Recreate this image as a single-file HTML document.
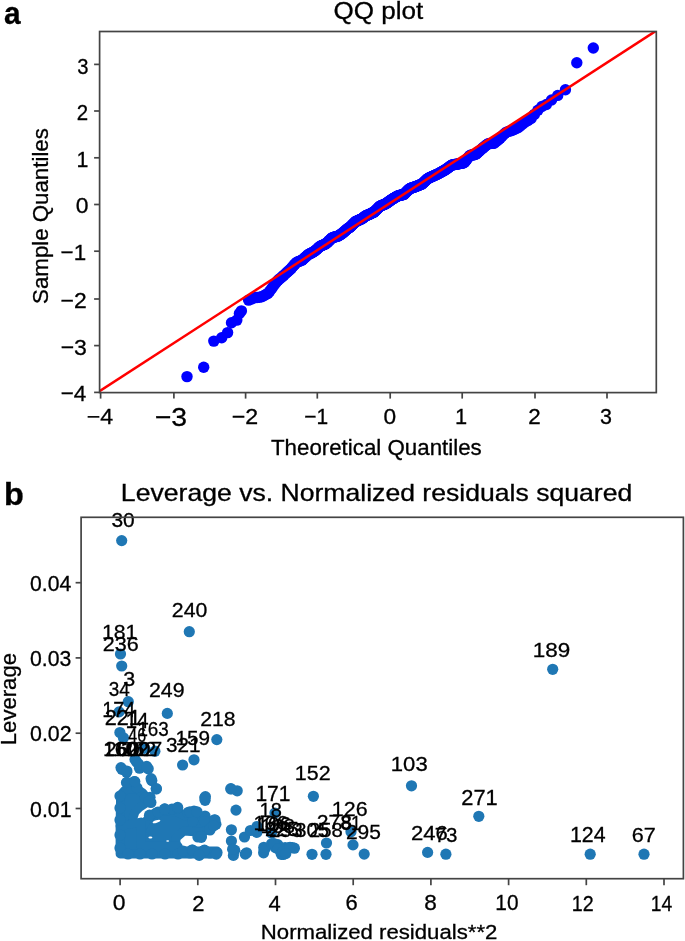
<!DOCTYPE html>
<html><head><meta charset="utf-8"><style>
html,body{margin:0;padding:0;background:#fff;}
svg{display:block;}
text{stroke:#000;stroke-width:0.3px;}
</style></head><body>
<svg width="685" height="941" viewBox="0 0 685 941" style="will-change:transform">
<rect width="685" height="941" fill="#fff"/>
<text x="4.1" y="24.18" font-family='"Liberation Sans", sans-serif' font-size="31.82" font-weight="bold" textLength="16.63" lengthAdjust="spacingAndGlyphs" fill="#000">a</text>
<text x="333.43" y="18.6" font-family='"Liberation Sans", sans-serif' font-size="23" font-weight="normal" textLength="89.72" lengthAdjust="spacingAndGlyphs" fill="#000">QQ plot</text>
<clipPath id="ca"><rect x="99.6" y="31.5" width="556.6999999999999" height="361.1"/></clipPath>
<g fill="#0000ff">
<circle cx="187" cy="376.6" r="5.7"/>
<circle cx="203.7" cy="367.2" r="5.7"/>
<circle cx="213.8" cy="341.1" r="5.7"/>
<circle cx="221.7" cy="337.8" r="5.7"/>
<circle cx="227.6" cy="332.6" r="5.7"/>
<circle cx="231.5" cy="322.7" r="5.7"/>
<circle cx="236.8" cy="320.1" r="5.7"/>
<circle cx="239.4" cy="313.5" r="5.7"/>
<circle cx="241.4" cy="310.9" r="5.7"/>
<circle cx="248.61" cy="300.11" r="5.7"/>
<circle cx="251.6" cy="298.87" r="5.7"/>
<circle cx="254.37" cy="297.82" r="5.7"/>
<circle cx="256.95" cy="297.45" r="5.7"/>
<circle cx="259.38" cy="297.29" r="5.7"/>
<circle cx="261.67" cy="296.7" r="5.7"/>
<circle cx="263.84" cy="295.77" r="5.7"/>
<circle cx="265.9" cy="294.57" r="5.7"/>
<circle cx="267.86" cy="293.38" r="5.7"/>
<circle cx="269.74" cy="291.2" r="5.7"/>
<circle cx="271.55" cy="288.81" r="5.7"/>
<circle cx="273.28" cy="286.3" r="5.7"/>
<circle cx="274.94" cy="283.95" r="5.7"/>
<circle cx="276.55" cy="281.98" r="5.7"/>
<circle cx="278.11" cy="280.11" r="5.7"/>
<circle cx="279.61" cy="278.89" r="5.7"/>
<circle cx="281.07" cy="277.71" r="5.7"/>
<circle cx="282.49" cy="276.48" r="5.7"/>
<circle cx="283.86" cy="275.25" r="5.7"/>
<circle cx="285.2" cy="274.01" r="5.7"/>
<circle cx="286.51" cy="272.8" r="5.7"/>
<circle cx="287.78" cy="271.62" r="5.7"/>
<circle cx="289.02" cy="270.47" r="5.7"/>
<circle cx="290.23" cy="269.51" r="5.7"/>
<circle cx="291.42" cy="268.14" r="5.7"/>
<circle cx="292.57" cy="266.8" r="5.7"/>
<circle cx="293.71" cy="265.48" r="5.7"/>
<circle cx="294.82" cy="264.2" r="5.7"/>
<circle cx="295.91" cy="262.93" r="5.7"/>
<circle cx="296.98" cy="262.32" r="5.7"/>
<circle cx="298.03" cy="261.76" r="5.7"/>
<circle cx="299.06" cy="261.34" r="5.7"/>
<circle cx="300.07" cy="260.94" r="5.7"/>
<circle cx="301.06" cy="260.54" r="5.7"/>
<circle cx="302.04" cy="260.13" r="5.7"/>
<circle cx="303.01" cy="259.26" r="5.7"/>
<circle cx="303.95" cy="258.41" r="5.7"/>
<circle cx="304.89" cy="257.56" r="5.7"/>
<circle cx="305.81" cy="256.73" r="5.7"/>
<circle cx="306.71" cy="255.91" r="5.7"/>
<circle cx="307.6" cy="255.07" r="5.7"/>
<circle cx="308.48" cy="254.44" r="5.7"/>
<circle cx="309.35" cy="253.99" r="5.7"/>
<circle cx="310.21" cy="253.55" r="5.7"/>
<circle cx="311.06" cy="253.11" r="5.7"/>
<circle cx="311.89" cy="252.68" r="5.7"/>
<circle cx="312.72" cy="252.25" r="5.7"/>
<circle cx="313.53" cy="251.83" r="5.7"/>
<circle cx="314.34" cy="251.33" r="5.7"/>
<circle cx="315.14" cy="250.72" r="5.7"/>
<circle cx="315.93" cy="250.08" r="5.7"/>
<circle cx="316.7" cy="249.37" r="5.7"/>
<circle cx="317.48" cy="248.66" r="5.7"/>
<circle cx="318.24" cy="247.96" r="5.7"/>
<circle cx="318.99" cy="247.27" r="5.7"/>
<circle cx="319.74" cy="246.59" r="5.7"/>
<circle cx="320.48" cy="246.13" r="5.7"/>
<circle cx="321.21" cy="245.8" r="5.7"/>
<circle cx="321.94" cy="245.48" r="5.7"/>
<circle cx="322.66" cy="245.15" r="5.7"/>
<circle cx="323.37" cy="244.83" r="5.7"/>
<circle cx="324.08" cy="244.52" r="5.7"/>
<circle cx="324.78" cy="244.22" r="5.7"/>
<circle cx="325.47" cy="243.94" r="5.7"/>
<circle cx="326.16" cy="243.57" r="5.7"/>
<circle cx="326.84" cy="242.91" r="5.7"/>
<circle cx="327.52" cy="242.25" r="5.7"/>
<circle cx="328.19" cy="241.6" r="5.7"/>
<circle cx="328.86" cy="240.95" r="5.7"/>
<circle cx="329.52" cy="240.3" r="5.7"/>
<circle cx="330.17" cy="239.66" r="5.7"/>
<circle cx="330.82" cy="239.03" r="5.7"/>
<circle cx="331.47" cy="238.4" r="5.7"/>
<circle cx="332.11" cy="237.84" r="5.7"/>
<circle cx="332.75" cy="237.57" r="5.7"/>
<circle cx="333.38" cy="237.34" r="5.7"/>
<circle cx="334.01" cy="237.17" r="5.7"/>
<circle cx="334.64" cy="237" r="5.7"/>
<circle cx="335.26" cy="236.83" r="5.7"/>
<circle cx="335.87" cy="236.67" r="5.7"/>
<circle cx="336.49" cy="236.5" r="5.7"/>
<circle cx="337.1" cy="236.34" r="5.7"/>
<circle cx="337.7" cy="236.18" r="5.7"/>
<circle cx="338.3" cy="235.91" r="5.7"/>
<circle cx="338.9" cy="235.53" r="5.7"/>
<circle cx="339.49" cy="235.16" r="5.7"/>
<circle cx="340.09" cy="234.79" r="5.7"/>
<circle cx="340.67" cy="234.42" r="5.7"/>
<circle cx="341.26" cy="234.06" r="5.7"/>
<circle cx="341.84" cy="233.69" r="5.7"/>
<circle cx="342.42" cy="233.22" r="5.7"/>
<circle cx="342.99" cy="232.74" r="5.7"/>
<circle cx="343.57" cy="232.26" r="5.7"/>
<circle cx="344.14" cy="231.78" r="5.7"/>
<circle cx="344.7" cy="231.28" r="5.7"/>
<circle cx="345.27" cy="230.78" r="5.7"/>
<circle cx="345.83" cy="230.29" r="5.7"/>
<circle cx="346.39" cy="229.79" r="5.7"/>
<circle cx="346.94" cy="229.3" r="5.7"/>
<circle cx="347.5" cy="228.81" r="5.7"/>
<circle cx="348.05" cy="228.33" r="5.7"/>
<circle cx="348.6" cy="227.99" r="5.7"/>
<circle cx="349.14" cy="227.68" r="5.7"/>
<circle cx="349.69" cy="227.37" r="5.7"/>
<circle cx="350.23" cy="226.96" r="5.7"/>
<circle cx="350.77" cy="226.41" r="5.7"/>
<circle cx="351.31" cy="225.87" r="5.7"/>
<circle cx="351.84" cy="225.34" r="5.7"/>
<circle cx="352.38" cy="224.8" r="5.7"/>
<circle cx="352.91" cy="224.27" r="5.7"/>
<circle cx="353.44" cy="223.74" r="5.7"/>
<circle cx="353.96" cy="223.21" r="5.7"/>
<circle cx="354.49" cy="222.68" r="5.7"/>
<circle cx="355.01" cy="222.15" r="5.7"/>
<circle cx="355.53" cy="221.63" r="5.7"/>
<circle cx="356.05" cy="221.15" r="5.7"/>
<circle cx="356.57" cy="221.12" r="5.7"/>
<circle cx="357.09" cy="221.01" r="5.7"/>
<circle cx="357.6" cy="220.76" r="5.7"/>
<circle cx="358.12" cy="220.52" r="5.7"/>
<circle cx="358.63" cy="220.28" r="5.7"/>
<circle cx="359.14" cy="220.04" r="5.7"/>
<circle cx="359.65" cy="219.8" r="5.7"/>
<circle cx="360.16" cy="219.57" r="5.7"/>
<circle cx="360.66" cy="219.33" r="5.7"/>
<circle cx="361.17" cy="219.09" r="5.7"/>
<circle cx="361.67" cy="218.86" r="5.7"/>
<circle cx="362.17" cy="218.57" r="5.7"/>
<circle cx="362.67" cy="218.17" r="5.7"/>
<circle cx="363.17" cy="217.78" r="5.7"/>
<circle cx="363.67" cy="217.38" r="5.7"/>
<circle cx="364.16" cy="216.99" r="5.7"/>
<circle cx="364.66" cy="216.6" r="5.7"/>
<circle cx="365.15" cy="216.21" r="5.7"/>
<circle cx="365.65" cy="215.81" r="5.7"/>
<circle cx="366.14" cy="215.6" r="5.7"/>
<circle cx="366.63" cy="215.41" r="5.7"/>
<circle cx="367.12" cy="215.22" r="5.7"/>
<circle cx="367.61" cy="215.02" r="5.7"/>
<circle cx="368.09" cy="214.83" r="5.7"/>
<circle cx="368.58" cy="214.6" r="5.7"/>
<circle cx="369.07" cy="214.38" r="5.7"/>
<circle cx="369.55" cy="214.15" r="5.7"/>
<circle cx="370.04" cy="213.93" r="5.7"/>
<circle cx="370.52" cy="213.7" r="5.7"/>
<circle cx="371" cy="213.48" r="5.7"/>
<circle cx="371.48" cy="213.26" r="5.7"/>
<circle cx="371.96" cy="213.03" r="5.7"/>
<circle cx="372.44" cy="212.81" r="5.7"/>
<circle cx="372.92" cy="212.59" r="5.7"/>
<circle cx="373.4" cy="212.37" r="5.7"/>
<circle cx="373.88" cy="212.15" r="5.7"/>
<circle cx="374.35" cy="211.79" r="5.7"/>
<circle cx="374.83" cy="211.32" r="5.7"/>
<circle cx="375.31" cy="210.84" r="5.7"/>
<circle cx="375.78" cy="210.36" r="5.7"/>
<circle cx="376.25" cy="209.89" r="5.7"/>
<circle cx="376.73" cy="209.41" r="5.7"/>
<circle cx="377.2" cy="208.94" r="5.7"/>
<circle cx="377.67" cy="208.46" r="5.7"/>
<circle cx="378.15" cy="207.99" r="5.7"/>
<circle cx="378.62" cy="207.51" r="5.7"/>
<circle cx="379.09" cy="207.04" r="5.7"/>
<circle cx="379.56" cy="206.57" r="5.7"/>
<circle cx="380.03" cy="206.11" r="5.7"/>
<circle cx="380.5" cy="205.92" r="5.7"/>
<circle cx="380.97" cy="205.72" r="5.7"/>
<circle cx="381.44" cy="205.52" r="5.7"/>
<circle cx="381.91" cy="205.33" r="5.7"/>
<circle cx="382.38" cy="205.13" r="5.7"/>
<circle cx="382.84" cy="204.93" r="5.7"/>
<circle cx="383.31" cy="204.74" r="5.7"/>
<circle cx="383.78" cy="204.55" r="5.7"/>
<circle cx="384.25" cy="204.37" r="5.7"/>
<circle cx="384.71" cy="204.18" r="5.7"/>
<circle cx="385.18" cy="204" r="5.7"/>
<circle cx="385.65" cy="203.81" r="5.7"/>
<circle cx="386.11" cy="203.59" r="5.7"/>
<circle cx="386.58" cy="203.25" r="5.7"/>
<circle cx="387.04" cy="202.91" r="5.7"/>
<circle cx="387.51" cy="202.56" r="5.7"/>
<circle cx="387.98" cy="202.22" r="5.7"/>
<circle cx="388.44" cy="201.88" r="5.7"/>
<circle cx="388.91" cy="201.54" r="5.7"/>
<circle cx="389.37" cy="201.2" r="5.7"/>
<circle cx="389.84" cy="200.86" r="5.7"/>
<circle cx="390.31" cy="200.52" r="5.7"/>
<circle cx="390.77" cy="200.17" r="5.7"/>
<circle cx="391.24" cy="199.83" r="5.7"/>
<circle cx="391.7" cy="199.49" r="5.7"/>
<circle cx="392.17" cy="199.18" r="5.7"/>
<circle cx="392.64" cy="198.91" r="5.7"/>
<circle cx="393.1" cy="198.64" r="5.7"/>
<circle cx="393.57" cy="198.37" r="5.7"/>
<circle cx="394.03" cy="198.1" r="5.7"/>
<circle cx="394.5" cy="197.83" r="5.7"/>
<circle cx="394.97" cy="197.56" r="5.7"/>
<circle cx="395.43" cy="197.29" r="5.7"/>
<circle cx="395.9" cy="197.02" r="5.7"/>
<circle cx="396.37" cy="196.74" r="5.7"/>
<circle cx="396.84" cy="196.47" r="5.7"/>
<circle cx="397.3" cy="196.2" r="5.7"/>
<circle cx="397.77" cy="195.93" r="5.7"/>
<circle cx="398.24" cy="195.75" r="5.7"/>
<circle cx="398.71" cy="195.63" r="5.7"/>
<circle cx="399.18" cy="195.52" r="5.7"/>
<circle cx="399.65" cy="195.4" r="5.7"/>
<circle cx="400.12" cy="195.29" r="5.7"/>
<circle cx="400.59" cy="195.18" r="5.7"/>
<circle cx="401.06" cy="195.06" r="5.7"/>
<circle cx="401.53" cy="194.95" r="5.7"/>
<circle cx="402.01" cy="194.83" r="5.7"/>
<circle cx="402.48" cy="194.72" r="5.7"/>
<circle cx="402.95" cy="194.6" r="5.7"/>
<circle cx="403.43" cy="194.49" r="5.7"/>
<circle cx="403.9" cy="194.37" r="5.7"/>
<circle cx="404.37" cy="193.95" r="5.7"/>
<circle cx="404.85" cy="193.45" r="5.7"/>
<circle cx="405.33" cy="192.95" r="5.7"/>
<circle cx="405.8" cy="192.45" r="5.7"/>
<circle cx="406.28" cy="191.95" r="5.7"/>
<circle cx="406.76" cy="191.44" r="5.7"/>
<circle cx="407.24" cy="190.99" r="5.7"/>
<circle cx="407.72" cy="190.56" r="5.7"/>
<circle cx="408.2" cy="190.12" r="5.7"/>
<circle cx="408.68" cy="189.69" r="5.7"/>
<circle cx="409.16" cy="189.25" r="5.7"/>
<circle cx="409.64" cy="188.81" r="5.7"/>
<circle cx="410.13" cy="188.45" r="5.7"/>
<circle cx="410.61" cy="188.29" r="5.7"/>
<circle cx="411.1" cy="188.13" r="5.7"/>
<circle cx="411.59" cy="187.96" r="5.7"/>
<circle cx="412.07" cy="187.8" r="5.7"/>
<circle cx="412.56" cy="187.64" r="5.7"/>
<circle cx="413.05" cy="187.48" r="5.7"/>
<circle cx="413.54" cy="187.31" r="5.7"/>
<circle cx="414.03" cy="187.15" r="5.7"/>
<circle cx="414.53" cy="186.99" r="5.7"/>
<circle cx="415.02" cy="186.82" r="5.7"/>
<circle cx="415.52" cy="186.66" r="5.7"/>
<circle cx="416.01" cy="186.46" r="5.7"/>
<circle cx="416.51" cy="186.25" r="5.7"/>
<circle cx="417.01" cy="186.04" r="5.7"/>
<circle cx="417.51" cy="185.84" r="5.7"/>
<circle cx="418.01" cy="185.63" r="5.7"/>
<circle cx="418.51" cy="185.42" r="5.7"/>
<circle cx="419.02" cy="185.21" r="5.7"/>
<circle cx="419.52" cy="185" r="5.7"/>
<circle cx="420.03" cy="184.79" r="5.7"/>
<circle cx="420.54" cy="184.58" r="5.7"/>
<circle cx="421.05" cy="184.37" r="5.7"/>
<circle cx="421.56" cy="184.16" r="5.7"/>
<circle cx="422.08" cy="183.9" r="5.7"/>
<circle cx="422.59" cy="183.43" r="5.7"/>
<circle cx="423.11" cy="182.94" r="5.7"/>
<circle cx="423.63" cy="182.46" r="5.7"/>
<circle cx="424.15" cy="181.98" r="5.7"/>
<circle cx="424.67" cy="181.5" r="5.7"/>
<circle cx="425.19" cy="181.02" r="5.7"/>
<circle cx="425.72" cy="180.54" r="5.7"/>
<circle cx="426.24" cy="180.06" r="5.7"/>
<circle cx="426.77" cy="179.57" r="5.7"/>
<circle cx="427.3" cy="179.09" r="5.7"/>
<circle cx="427.84" cy="178.6" r="5.7"/>
<circle cx="428.37" cy="178.27" r="5.7"/>
<circle cx="428.91" cy="178.01" r="5.7"/>
<circle cx="429.45" cy="177.74" r="5.7"/>
<circle cx="429.99" cy="177.48" r="5.7"/>
<circle cx="430.54" cy="177.24" r="5.7"/>
<circle cx="431.08" cy="177" r="5.7"/>
<circle cx="431.63" cy="176.77" r="5.7"/>
<circle cx="432.18" cy="176.53" r="5.7"/>
<circle cx="432.74" cy="176.29" r="5.7"/>
<circle cx="433.29" cy="176.05" r="5.7"/>
<circle cx="433.85" cy="175.8" r="5.7"/>
<circle cx="434.41" cy="175.54" r="5.7"/>
<circle cx="434.98" cy="175.26" r="5.7"/>
<circle cx="435.54" cy="174.99" r="5.7"/>
<circle cx="436.11" cy="174.71" r="5.7"/>
<circle cx="436.69" cy="174.43" r="5.7"/>
<circle cx="437.26" cy="174.15" r="5.7"/>
<circle cx="437.84" cy="173.87" r="5.7"/>
<circle cx="438.42" cy="173.58" r="5.7"/>
<circle cx="439.01" cy="173.28" r="5.7"/>
<circle cx="439.59" cy="172.98" r="5.7"/>
<circle cx="440.19" cy="172.67" r="5.7"/>
<circle cx="440.78" cy="172.33" r="5.7"/>
<circle cx="441.38" cy="171.99" r="5.7"/>
<circle cx="441.98" cy="171.65" r="5.7"/>
<circle cx="442.58" cy="171.3" r="5.7"/>
<circle cx="443.19" cy="170.96" r="5.7"/>
<circle cx="443.81" cy="170.61" r="5.7"/>
<circle cx="444.42" cy="170.26" r="5.7"/>
<circle cx="445.04" cy="169.91" r="5.7"/>
<circle cx="445.67" cy="169.55" r="5.7"/>
<circle cx="446.3" cy="169.12" r="5.7"/>
<circle cx="446.93" cy="168.59" r="5.7"/>
<circle cx="447.57" cy="168.13" r="5.7"/>
<circle cx="448.21" cy="167.66" r="5.7"/>
<circle cx="448.86" cy="167.2" r="5.7"/>
<circle cx="449.51" cy="166.73" r="5.7"/>
<circle cx="450.16" cy="166.25" r="5.7"/>
<circle cx="450.82" cy="165.77" r="5.7"/>
<circle cx="451.49" cy="165.29" r="5.7"/>
<circle cx="452.16" cy="164.9" r="5.7"/>
<circle cx="452.84" cy="164.79" r="5.7"/>
<circle cx="453.52" cy="164.68" r="5.7"/>
<circle cx="454.21" cy="164.57" r="5.7"/>
<circle cx="454.9" cy="164.46" r="5.7"/>
<circle cx="455.6" cy="164.34" r="5.7"/>
<circle cx="456.31" cy="164.22" r="5.7"/>
<circle cx="457.02" cy="164.09" r="5.7"/>
<circle cx="457.74" cy="163.96" r="5.7"/>
<circle cx="458.47" cy="163.82" r="5.7"/>
<circle cx="459.2" cy="163.69" r="5.7"/>
<circle cx="459.94" cy="163.55" r="5.7"/>
<circle cx="460.69" cy="163.41" r="5.7"/>
<circle cx="461.44" cy="163.27" r="5.7"/>
<circle cx="462.2" cy="163.13" r="5.7"/>
<circle cx="462.98" cy="162.98" r="5.7"/>
<circle cx="463.75" cy="162.84" r="5.7"/>
<circle cx="464.54" cy="162.18" r="5.7"/>
<circle cx="465.34" cy="161.17" r="5.7"/>
<circle cx="466.15" cy="160.15" r="5.7"/>
<circle cx="466.96" cy="159.11" r="5.7"/>
<circle cx="467.79" cy="158.07" r="5.7"/>
<circle cx="468.62" cy="157.01" r="5.7"/>
<circle cx="469.47" cy="155.94" r="5.7"/>
<circle cx="470.33" cy="155.23" r="5.7"/>
<circle cx="471.2" cy="155.13" r="5.7"/>
<circle cx="472.08" cy="155.03" r="5.7"/>
<circle cx="472.97" cy="154.92" r="5.7"/>
<circle cx="473.87" cy="154.74" r="5.7"/>
<circle cx="474.79" cy="154.51" r="5.7"/>
<circle cx="475.73" cy="154.29" r="5.7"/>
<circle cx="476.67" cy="153.6" r="5.7"/>
<circle cx="477.64" cy="152.71" r="5.7"/>
<circle cx="478.62" cy="151.81" r="5.7"/>
<circle cx="479.61" cy="150.89" r="5.7"/>
<circle cx="480.62" cy="149.96" r="5.7"/>
<circle cx="481.65" cy="149.01" r="5.7"/>
<circle cx="482.7" cy="148.11" r="5.7"/>
<circle cx="483.77" cy="147.21" r="5.7"/>
<circle cx="484.86" cy="146.3" r="5.7"/>
<circle cx="485.97" cy="145.37" r="5.7"/>
<circle cx="487.11" cy="144.42" r="5.7"/>
<circle cx="488.26" cy="143.64" r="5.7"/>
<circle cx="489.45" cy="143.52" r="5.7"/>
<circle cx="490.66" cy="143.45" r="5.7"/>
<circle cx="491.9" cy="143.42" r="5.7"/>
<circle cx="493.17" cy="143.39" r="5.7"/>
<circle cx="494.48" cy="142.95" r="5.7"/>
<circle cx="495.82" cy="141.79" r="5.7"/>
<circle cx="497.19" cy="140.6" r="5.7"/>
<circle cx="498.61" cy="139.38" r="5.7"/>
<circle cx="500.07" cy="138.1" r="5.7"/>
<circle cx="501.57" cy="136.61" r="5.7"/>
<circle cx="503.13" cy="135.06" r="5.7"/>
<circle cx="504.74" cy="133.46" r="5.7"/>
<circle cx="506.4" cy="132.08" r="5.7"/>
<circle cx="508.13" cy="131.58" r="5.7"/>
<circle cx="509.94" cy="131.05" r="5.7"/>
<circle cx="511.82" cy="130.49" r="5.7"/>
<circle cx="513.78" cy="129.62" r="5.7"/>
<circle cx="515.84" cy="128.66" r="5.7"/>
<circle cx="518.01" cy="127.66" r="5.7"/>
<circle cx="520.3" cy="125.97" r="5.7"/>
<circle cx="522.73" cy="124.04" r="5.7"/>
<circle cx="525.31" cy="122.09" r="5.7"/>
<circle cx="528.08" cy="120.48" r="5.7"/>
<circle cx="531.07" cy="118.38" r="5.7"/>
<circle cx="534.32" cy="114.38" r="5.7"/>
<circle cx="537.9" cy="110.18" r="5.7"/>
<circle cx="541.87" cy="106.43" r="5.7"/>
<circle cx="546.36" cy="104.48" r="5.7"/>
<circle cx="551.54" cy="100" r="5.7"/>
<circle cx="557.72" cy="95.41" r="5.7"/>
<circle cx="565.42" cy="89.82" r="5.7"/>
<circle cx="576.8" cy="62.8" r="5.7"/>
<circle cx="593.3" cy="48" r="5.7"/>
</g>
<line x1="97" y1="392.85" x2="660" y2="28.25" stroke="#ff0000" stroke-width="2.5" clip-path="url(#ca)"/>
<rect x="99.6" y="31.5" width="556.6999999999999" height="361.1" fill="none" stroke="#444" stroke-width="1.7"/>
<line x1="94.1" y1="64.4" x2="99.6" y2="64.4" stroke="#444" stroke-width="1.7"/>
<text x="77.29" y="73.57" font-family='"Liberation Sans", sans-serif' font-size="22.54" font-weight="normal" textLength="11.24" lengthAdjust="spacingAndGlyphs" fill="#000">3</text>
<line x1="94.1" y1="111.0" x2="99.6" y2="111.0" stroke="#444" stroke-width="1.7"/>
<text x="76.68" y="120" font-family='"Liberation Sans", sans-serif' font-size="22.43" font-weight="normal" textLength="11.37" lengthAdjust="spacingAndGlyphs" fill="#000">2</text>
<line x1="94.1" y1="157.8" x2="99.6" y2="157.8" stroke="#444" stroke-width="1.7"/>
<text x="76.4" y="167.2" font-family='"Liberation Sans", sans-serif' font-size="22.75" font-weight="normal" textLength="11.89" lengthAdjust="spacingAndGlyphs" fill="#000">1</text>
<line x1="94.1" y1="204.5" x2="99.6" y2="204.5" stroke="#444" stroke-width="1.7"/>
<text x="75.78" y="213.38" font-family='"Liberation Sans", sans-serif' font-size="22.25" font-weight="normal" textLength="12.75" lengthAdjust="spacingAndGlyphs" fill="#000">0</text>
<line x1="94.1" y1="251.2" x2="99.6" y2="251.2" stroke="#444" stroke-width="1.7"/>
<text x="60.58" y="259.7" font-family='"Liberation Sans", sans-serif' font-size="22.61" font-weight="normal" textLength="25.53" lengthAdjust="spacingAndGlyphs" fill="#000">−1</text>
<line x1="94.1" y1="299.0" x2="99.6" y2="299.0" stroke="#444" stroke-width="1.7"/>
<text x="60.56" y="307.7" font-family='"Liberation Sans", sans-serif' font-size="21.71" font-weight="normal" textLength="26.09" lengthAdjust="spacingAndGlyphs" fill="#000">−2</text>
<line x1="94.1" y1="345.6" x2="99.6" y2="345.6" stroke="#444" stroke-width="1.7"/>
<text x="60.65" y="354.87" font-family='"Liberation Sans", sans-serif' font-size="22.82" font-weight="normal" textLength="26.28" lengthAdjust="spacingAndGlyphs" fill="#000">−3</text>
<line x1="94.1" y1="392.4" x2="99.6" y2="392.4" stroke="#444" stroke-width="1.7"/>
<text x="60.68" y="401.4" font-family='"Liberation Sans", sans-serif' font-size="22.75" font-weight="normal" textLength="25.6" lengthAdjust="spacingAndGlyphs" fill="#000">−4</text>
<line x1="100.6" y1="392.6" x2="100.6" y2="398.6" stroke="#444" stroke-width="1.7"/>
<text x="86.74" y="423.9" font-family='"Liberation Sans", sans-serif' font-size="21.59" font-weight="normal" textLength="26.35" lengthAdjust="spacingAndGlyphs" fill="#000">−4</text>
<line x1="173.9" y1="392.6" x2="173.9" y2="398.6" stroke="#444" stroke-width="1.7"/>
<text x="154.78" y="426.24" font-family='"Liberation Sans", sans-serif' font-size="25.92" font-weight="normal" textLength="32.36" lengthAdjust="spacingAndGlyphs" fill="#000">−3</text>
<line x1="245.6" y1="392.6" x2="245.6" y2="398.6" stroke="#444" stroke-width="1.7"/>
<text x="231.74" y="424.1" font-family='"Liberation Sans", sans-serif' font-size="21.86" font-weight="normal" textLength="26.42" lengthAdjust="spacingAndGlyphs" fill="#000">−2</text>
<line x1="317.3" y1="392.6" x2="317.3" y2="398.6" stroke="#444" stroke-width="1.7"/>
<text x="304.15" y="424.1" font-family='"Liberation Sans", sans-serif' font-size="22.17" font-weight="normal" textLength="23.89" lengthAdjust="spacingAndGlyphs" fill="#000">−1</text>
<line x1="390.2" y1="392.6" x2="390.2" y2="398.6" stroke="#444" stroke-width="1.7"/>
<text x="383.49" y="423.88" font-family='"Liberation Sans", sans-serif' font-size="21.55" font-weight="normal" textLength="12.63" lengthAdjust="spacingAndGlyphs" fill="#000">0</text>
<line x1="462.2" y1="392.6" x2="462.2" y2="398.6" stroke="#444" stroke-width="1.7"/>
<text x="454.96" y="424.1" font-family='"Liberation Sans", sans-serif' font-size="22.17" font-weight="normal" textLength="12.15" lengthAdjust="spacingAndGlyphs" fill="#000">1</text>
<line x1="535.0" y1="392.6" x2="535.0" y2="398.6" stroke="#444" stroke-width="1.7"/>
<text x="528.28" y="424.1" font-family='"Liberation Sans", sans-serif' font-size="21.86" font-weight="normal" textLength="12.47" lengthAdjust="spacingAndGlyphs" fill="#000">2</text>
<line x1="607.0" y1="392.6" x2="607.0" y2="398.6" stroke="#444" stroke-width="1.7"/>
<text x="600.04" y="423.88" font-family='"Liberation Sans", sans-serif' font-size="21.55" font-weight="normal" textLength="11.94" lengthAdjust="spacingAndGlyphs" fill="#000">3</text>
<text x="270.95" y="454.6" font-family='"Liberation Sans", sans-serif' font-size="21.2" font-weight="normal" textLength="210.81" lengthAdjust="spacingAndGlyphs" fill="#000">Theoretical Quantiles</text>
<g transform="translate(48.2,302.9) rotate(-90)"><text x="-1" y="0" font-family='"Liberation Sans", sans-serif' font-size="21.8" font-weight="normal" textLength="175.74" lengthAdjust="spacingAndGlyphs" fill="#000">Sample Quantiles</text></g>
<text x="3.99" y="505.09" font-family='"Liberation Sans", sans-serif' font-size="31.43" font-weight="bold" textLength="19.84" lengthAdjust="spacingAndGlyphs" fill="#000">b</text>
<text x="120.87" y="500.6" font-family='"Liberation Sans", sans-serif' font-size="23.2" font-weight="normal" textLength="511.42" lengthAdjust="spacingAndGlyphs" fill="#000">Leverage vs. Normalized residuals squared</text>
<clipPath id="cb"><rect x="81.1" y="517.3" width="602.3" height="361.4000000000001"/></clipPath>
<g fill="#1f77b4">
<polygon points="120.5,795 125,790 130,789 137,789 143,793 147,798 146,803 140,807 135,812 133,818 134,826 120,826" stroke="#1f77b4" stroke-width="8.799999999999999" stroke-linejoin="round"/>
<polygon points="150,816 156,812 165,811 177,812 185,816 194,815 203,817 209,821 209,826 205,831 198,832 184,831 176,838 176,846 150,846 141,832 144,824" stroke="#1f77b4" stroke-width="8.799999999999999" stroke-linejoin="round"/>
<polygon points="120,826 141,822 141,846 178,846 180,851 217,851 217,854 120,854" stroke="#1f77b4" stroke-width="8.799999999999999" stroke-linejoin="round"/>
<circle cx="126.5" cy="782.6" r="5.6"/>
<circle cx="134.3" cy="781.5" r="5.6"/>
<circle cx="136.9" cy="787.6" r="5.6"/>
<circle cx="151.8" cy="780.6" r="5.6"/>
<circle cx="156.2" cy="789" r="5.6"/>
<circle cx="149.5" cy="815.2" r="5.6"/>
<circle cx="164.8" cy="808.9" r="5.6"/>
<circle cx="177.2" cy="808.1" r="5.6"/>
<circle cx="194" cy="811" r="5.6"/>
<circle cx="214.5" cy="819.8" r="5.6"/>
<circle cx="215.9" cy="824.2" r="5.6"/>
<circle cx="210" cy="830" r="5.6"/>
<circle cx="201.3" cy="837.3" r="5.6"/>
<circle cx="150" cy="797.3" r="5.6"/>
<circle cx="150.9" cy="802.5" r="5.6"/>
<circle cx="188" cy="812.5" r="5.6"/>
<circle cx="172" cy="809" r="5.6"/>
<circle cx="158" cy="812" r="5.6"/>
<circle cx="205" cy="816" r="5.6"/>
<circle cx="120" cy="796" r="5.6"/>
<circle cx="120" cy="808" r="5.6"/>
<circle cx="120" cy="820" r="5.6"/>
<circle cx="120" cy="835" r="5.6"/>
<circle cx="120" cy="848" r="5.6"/>
<circle cx="128" cy="854" r="5.6"/>
<circle cx="140" cy="854" r="5.6"/>
<circle cx="152" cy="854" r="5.6"/>
<circle cx="165" cy="854" r="5.6"/>
<circle cx="178" cy="854" r="5.6"/>
<circle cx="190" cy="853" r="5.6"/>
<circle cx="200" cy="853" r="5.6"/>
<circle cx="210" cy="853" r="5.6"/>
<circle cx="217" cy="852.5" r="5.6"/>
<circle cx="183" cy="851" r="5.6"/>
<circle cx="192" cy="850" r="5.6"/>
<circle cx="204" cy="850.5" r="5.6"/>
</g>
<g fill="#fff"><ellipse cx="156.5" cy="821.5" rx="4" ry="1.3" transform="rotate(-18 156.5 821.5)"/><ellipse cx="150.4" cy="837.6" rx="2" ry="1"/><ellipse cx="167.7" cy="841" rx="1.5" ry="0.7"/></g>
<g fill="#1f77b4">
<circle cx="121.7" cy="540.6" r="5.6"/>
<circle cx="189.3" cy="631.7" r="5.6"/>
<circle cx="552.7" cy="669.3" r="5.6"/>
<circle cx="120.5" cy="654" r="5.6"/>
<circle cx="121.7" cy="666" r="5.6"/>
<circle cx="128.3" cy="701.7" r="5.6"/>
<circle cx="119.1" cy="711.9" r="5.6"/>
<circle cx="167.3" cy="713.4" r="5.6"/>
<circle cx="119.9" cy="732.5" r="5.6"/>
<circle cx="123.4" cy="737.8" r="5.6"/>
<circle cx="216.8" cy="739.6" r="5.6"/>
<circle cx="154.9" cy="751.2" r="5.6"/>
<circle cx="144.4" cy="748.3" r="5.6"/>
<circle cx="194" cy="759.8" r="5.6"/>
<circle cx="182.6" cy="765" r="5.6"/>
<circle cx="411.5" cy="785.8" r="5.6"/>
<circle cx="478.8" cy="816.3" r="5.6"/>
<circle cx="427.6" cy="852.4" r="5.6"/>
<circle cx="445.9" cy="854.2" r="5.6"/>
<circle cx="590.2" cy="854.2" r="5.6"/>
<circle cx="644" cy="854.2" r="5.6"/>
<circle cx="313.4" cy="796.3" r="5.6"/>
<circle cx="275" cy="813" r="5.6"/>
<circle cx="351" cy="831.8" r="5.6"/>
<circle cx="353" cy="844.9" r="5.6"/>
<circle cx="364.2" cy="854.1" r="5.6"/>
<circle cx="326.5" cy="843" r="5.6"/>
<circle cx="312" cy="854.3" r="5.6"/>
<circle cx="326" cy="854.3" r="5.6"/>
<circle cx="121.9" cy="769.3" r="5.6"/>
<circle cx="126.6" cy="772.3" r="5.6"/>
<circle cx="127" cy="782.4" r="5.6"/>
<circle cx="134.8" cy="781.6" r="5.6"/>
<circle cx="136.5" cy="761.75" r="5.6"/>
<circle cx="139.5" cy="768.2" r="5.6"/>
<circle cx="148.2" cy="768.8" r="5.6"/>
<circle cx="151.1" cy="778.7" r="5.6"/>
<circle cx="156.4" cy="788.6" r="5.6"/>
<circle cx="135" cy="759.4" r="5.6"/>
<circle cx="138.5" cy="764" r="5.6"/>
<circle cx="146.7" cy="766.4" r="5.6"/>
<circle cx="121" cy="767.6" r="5.6"/>
<circle cx="126.9" cy="771" r="5.6"/>
<circle cx="205.1" cy="800.3" r="5.6"/>
<circle cx="236" cy="810.1" r="5.6"/>
<circle cx="195.3" cy="812.1" r="5.6"/>
<circle cx="192.6" cy="821.3" r="5.6"/>
<circle cx="204.5" cy="821.3" r="5.6"/>
<circle cx="215" cy="820" r="5.6"/>
<circle cx="209.7" cy="829.2" r="5.6"/>
<circle cx="197.9" cy="837" r="5.6"/>
<circle cx="192.6" cy="850.2" r="5.6"/>
<circle cx="204.5" cy="850.2" r="5.6"/>
<circle cx="216.3" cy="854.1" r="5.6"/>
<circle cx="199.2" cy="855.4" r="5.6"/>
<circle cx="231.4" cy="829.8" r="5.6"/>
<circle cx="231.4" cy="841" r="5.6"/>
<circle cx="234.7" cy="850.2" r="5.6"/>
<circle cx="233.4" cy="855.4" r="5.6"/>
<circle cx="245.2" cy="854.1" r="5.6"/>
<circle cx="244.5" cy="837" r="5.6"/>
<circle cx="250.4" cy="830.5" r="5.6"/>
<circle cx="257" cy="826.5" r="5.6"/>
<circle cx="264.9" cy="848.9" r="5.6"/>
<circle cx="263.6" cy="852.8" r="5.6"/>
<circle cx="275.4" cy="847.6" r="5.6"/>
<circle cx="271.5" cy="833.1" r="5.6"/>
<circle cx="145.3" cy="797.8" r="5.6"/>
<circle cx="148.8" cy="801.3" r="5.6"/>
<circle cx="164.5" cy="809.2" r="5.6"/>
<circle cx="177.7" cy="807.4" r="5.6"/>
<circle cx="189.9" cy="811.8" r="5.6"/>
<circle cx="197" cy="811.8" r="5.6"/>
<circle cx="204.8" cy="797.8" r="5.6"/>
<circle cx="213.6" cy="825.8" r="5.6"/>
<circle cx="231.1" cy="789" r="5.6"/>
<circle cx="237.2" cy="790.8" r="5.6"/>
<circle cx="230.8" cy="788.7" r="5.6"/>
<circle cx="201.3" cy="836.3" r="5.6"/>
<circle cx="205.4" cy="796.6" r="5.6"/>
<circle cx="232.6" cy="849.3" r="5.6"/>
<circle cx="246.6" cy="852.8" r="5.6"/>
<circle cx="264.1" cy="849.3" r="5.6"/>
<circle cx="285.1" cy="847.5" r="5.6"/>
<circle cx="292.1" cy="847.5" r="5.6"/>
<circle cx="283.4" cy="854.5" r="5.6"/>
<circle cx="263.8" cy="847.3" r="5.6"/>
<circle cx="271.6" cy="843.8" r="5.6"/>
<circle cx="277.8" cy="844.7" r="5.6"/>
<circle cx="283.9" cy="850" r="5.6"/>
<circle cx="290" cy="847.3" r="5.6"/>
<circle cx="294.4" cy="848.2" r="5.6"/>
<circle cx="281.3" cy="854.3" r="5.6"/>
<circle cx="274" cy="843.6" r="5.6"/>
<circle cx="277.9" cy="848.9" r="5.6"/>
<circle cx="283.1" cy="851.5" r="5.6"/>
<circle cx="289.7" cy="847.6" r="5.6"/>
<circle cx="285.8" cy="853.5" r="5.6"/>
<circle cx="256.8" cy="832.4" r="5.6"/>
</g>
<text x="111.46" y="527.39" font-family='"Liberation Sans", sans-serif' font-size="21.13" font-weight="normal" textLength="23.32" lengthAdjust="spacingAndGlyphs" fill="#000">30</text>
<text x="171.84" y="617.39" font-family='"Liberation Sans", sans-serif' font-size="21.13" font-weight="normal" textLength="35.48" lengthAdjust="spacingAndGlyphs" fill="#000">240</text>
<text x="532.82" y="657.19" font-family='"Liberation Sans", sans-serif' font-size="21.13" font-weight="normal" textLength="37.47" lengthAdjust="spacingAndGlyphs" fill="#000">189</text>
<text x="101.91" y="639.09" font-family='"Liberation Sans", sans-serif' font-size="21.13" font-weight="normal" textLength="35.42" lengthAdjust="spacingAndGlyphs" fill="#000">181</text>
<text x="102.72" y="651.49" font-family='"Liberation Sans", sans-serif' font-size="21.13" font-weight="normal" textLength="36.02" lengthAdjust="spacingAndGlyphs" fill="#000">236</text>
<text x="123.34" y="686.19" font-family='"Liberation Sans", sans-serif' font-size="21.13" font-weight="normal" textLength="11.94" lengthAdjust="spacingAndGlyphs" fill="#000">3</text>
<text x="108.84" y="696.39" font-family='"Liberation Sans", sans-serif' font-size="21.13" font-weight="normal" textLength="21.07" lengthAdjust="spacingAndGlyphs" fill="#000">34</text>
<text x="148.93" y="697.19" font-family='"Liberation Sans", sans-serif' font-size="21.13" font-weight="normal" textLength="35.6" lengthAdjust="spacingAndGlyphs" fill="#000">249</text>
<text x="102.33" y="717" font-family='"Liberation Sans", sans-serif' font-size="21.74" font-weight="normal" textLength="32.73" lengthAdjust="spacingAndGlyphs" fill="#000">174</text>
<text x="104.72" y="725.4" font-family='"Liberation Sans", sans-serif' font-size="21.43" font-weight="normal" textLength="36.13" lengthAdjust="spacingAndGlyphs" fill="#000">221</text>
<text x="125.43" y="728.3" font-family='"Liberation Sans", sans-serif' font-size="21.74" font-weight="normal" textLength="23.24" lengthAdjust="spacingAndGlyphs" fill="#000">14</text>
<text x="137.39" y="735.99" font-family='"Liberation Sans", sans-serif' font-size="21.13" font-weight="normal" textLength="31.43" lengthAdjust="spacingAndGlyphs" fill="#000">163</text>
<text x="200.14" y="726.19" font-family='"Liberation Sans", sans-serif' font-size="21.13" font-weight="normal" textLength="35.28" lengthAdjust="spacingAndGlyphs" fill="#000">218</text>
<text x="128.28" y="741.79" font-family='"Liberation Sans", sans-serif' font-size="21.13" font-weight="normal" textLength="17.9" lengthAdjust="spacingAndGlyphs" fill="#000">46</text>
<text x="175.45" y="744.79" font-family='"Liberation Sans", sans-serif' font-size="21.13" font-weight="normal" textLength="34.56" lengthAdjust="spacingAndGlyphs" fill="#000">159</text>
<text x="165.97" y="752.39" font-family='"Liberation Sans", sans-serif' font-size="21.13" font-weight="normal" textLength="34.53" lengthAdjust="spacingAndGlyphs" fill="#000">321</text>
<text x="103.12" y="756.19" font-family='"Liberation Sans", sans-serif' font-size="21.13" font-weight="normal" textLength="35.19" lengthAdjust="spacingAndGlyphs" fill="#000">160</text>
<text x="104.96" y="756.19" font-family='"Liberation Sans", sans-serif' font-size="21.13" font-weight="normal" textLength="34.85" lengthAdjust="spacingAndGlyphs" fill="#000">260</text>
<text x="113.39" y="756.19" font-family='"Liberation Sans", sans-serif' font-size="21.13" font-weight="normal" textLength="35.75" lengthAdjust="spacingAndGlyphs" fill="#000">102</text>
<text x="120.95" y="756.19" font-family='"Liberation Sans", sans-serif' font-size="21.13" font-weight="normal" textLength="35.18" lengthAdjust="spacingAndGlyphs" fill="#000">262</text>
<text x="126.95" y="756.19" font-family='"Liberation Sans", sans-serif' font-size="21.13" font-weight="normal" textLength="35.18" lengthAdjust="spacingAndGlyphs" fill="#000">207</text>
<text x="390.85" y="770.99" font-family='"Liberation Sans", sans-serif' font-size="21.13" font-weight="normal" textLength="36.81" lengthAdjust="spacingAndGlyphs" fill="#000">103</text>
<text x="294.89" y="780.49" font-family='"Liberation Sans", sans-serif' font-size="21.13" font-weight="normal" textLength="35.75" lengthAdjust="spacingAndGlyphs" fill="#000">152</text>
<text x="461.31" y="804.6" font-family='"Liberation Sans", sans-serif' font-size="21.43" font-weight="normal" textLength="36.45" lengthAdjust="spacingAndGlyphs" fill="#000">271</text>
<text x="255.42" y="800.8" font-family='"Liberation Sans", sans-serif' font-size="21.74" font-weight="normal" textLength="35.1" lengthAdjust="spacingAndGlyphs" fill="#000">171</text>
<text x="331.89" y="816.19" font-family='"Liberation Sans", sans-serif' font-size="21.13" font-weight="normal" textLength="35.74" lengthAdjust="spacingAndGlyphs" fill="#000">126</text>
<text x="259.49" y="817.09" font-family='"Liberation Sans", sans-serif' font-size="21.13" font-weight="normal" textLength="22.36" lengthAdjust="spacingAndGlyphs" fill="#000">18</text>
<text x="316.64" y="828.59" font-family='"Liberation Sans", sans-serif' font-size="21.13" font-weight="normal" textLength="35.28" lengthAdjust="spacingAndGlyphs" fill="#000">278</text>
<text x="340.99" y="829.99" font-family='"Liberation Sans", sans-serif' font-size="21.13" font-weight="normal" textLength="20.07" lengthAdjust="spacingAndGlyphs" fill="#000">81</text>
<text x="253.45" y="829.59" font-family='"Liberation Sans", sans-serif' font-size="21.13" font-weight="normal" textLength="34.45" lengthAdjust="spacingAndGlyphs" fill="#000">136</text>
<text x="256.45" y="831.09" font-family='"Liberation Sans", sans-serif' font-size="21.13" font-weight="normal" textLength="34.45" lengthAdjust="spacingAndGlyphs" fill="#000">106</text>
<text x="260.45" y="832.59" font-family='"Liberation Sans", sans-serif' font-size="21.13" font-weight="normal" textLength="34.45" lengthAdjust="spacingAndGlyphs" fill="#000">168</text>
<text x="264.98" y="835.59" font-family='"Liberation Sans", sans-serif' font-size="21.13" font-weight="normal" textLength="33.9" lengthAdjust="spacingAndGlyphs" fill="#000">225</text>
<text x="268.98" y="837.09" font-family='"Liberation Sans", sans-serif' font-size="21.13" font-weight="normal" textLength="33.9" lengthAdjust="spacingAndGlyphs" fill="#000">253</text>
<text x="295.19" y="837.29" font-family='"Liberation Sans", sans-serif' font-size="21.13" font-weight="normal" textLength="33.69" lengthAdjust="spacingAndGlyphs" fill="#000">305</text>
<text x="308.98" y="837.29" font-family='"Liberation Sans", sans-serif' font-size="21.13" font-weight="normal" textLength="33.9" lengthAdjust="spacingAndGlyphs" fill="#000">258</text>
<text x="345.95" y="838.59" font-family='"Liberation Sans", sans-serif' font-size="21.13" font-weight="normal" textLength="34.96" lengthAdjust="spacingAndGlyphs" fill="#000">295</text>
<text x="410.9" y="839.99" font-family='"Liberation Sans", sans-serif' font-size="21.13" font-weight="normal" textLength="36.87" lengthAdjust="spacingAndGlyphs" fill="#000">246</text>
<text x="434.68" y="842.19" font-family='"Liberation Sans", sans-serif' font-size="21.13" font-weight="normal" textLength="22.79" lengthAdjust="spacingAndGlyphs" fill="#000">73</text>
<text x="569.9" y="842.4" font-family='"Liberation Sans", sans-serif' font-size="21.43" font-weight="normal" textLength="35.62" lengthAdjust="spacingAndGlyphs" fill="#000">124</text>
<text x="631.82" y="842.19" font-family='"Liberation Sans", sans-serif' font-size="21.13" font-weight="normal" textLength="24.01" lengthAdjust="spacingAndGlyphs" fill="#000">67</text>
<rect x="81.1" y="517.3" width="602.3" height="361.4000000000001" fill="none" stroke="#444" stroke-width="1.7"/>
<line x1="75.6" y1="582.7" x2="81.1" y2="582.7" stroke="#444" stroke-width="1.7"/>
<text x="30.06" y="590.78" font-family='"Liberation Sans", sans-serif' font-size="21.55" font-weight="normal" textLength="41.11" lengthAdjust="spacingAndGlyphs" fill="#000">0.04</text>
<line x1="75.6" y1="657.9" x2="81.1" y2="657.9" stroke="#444" stroke-width="1.7"/>
<text x="30.05" y="665.98" font-family='"Liberation Sans", sans-serif' font-size="21.55" font-weight="normal" textLength="41.33" lengthAdjust="spacingAndGlyphs" fill="#000">0.03</text>
<line x1="75.6" y1="733.2" x2="81.1" y2="733.2" stroke="#444" stroke-width="1.7"/>
<text x="30.05" y="741.28" font-family='"Liberation Sans", sans-serif' font-size="21.55" font-weight="normal" textLength="41.55" lengthAdjust="spacingAndGlyphs" fill="#000">0.02</text>
<line x1="75.6" y1="808.5" x2="81.1" y2="808.5" stroke="#444" stroke-width="1.7"/>
<text x="30.05" y="816.58" font-family='"Liberation Sans", sans-serif' font-size="21.55" font-weight="normal" textLength="41.44" lengthAdjust="spacingAndGlyphs" fill="#000">0.01</text>
<line x1="120.1" y1="878.7" x2="120.1" y2="885.2" stroke="#444" stroke-width="1.7"/>
<text x="112.68" y="910.28" font-family='"Liberation Sans", sans-serif' font-size="21.83" font-weight="normal" textLength="12.75" lengthAdjust="spacingAndGlyphs" fill="#000">0</text>
<line x1="197.8" y1="878.7" x2="197.8" y2="885.2" stroke="#444" stroke-width="1.7"/>
<text x="192.3" y="910.5" font-family='"Liberation Sans", sans-serif' font-size="22.14" font-weight="normal" textLength="12.22" lengthAdjust="spacingAndGlyphs" fill="#000">2</text>
<line x1="275.5" y1="878.7" x2="275.5" y2="885.2" stroke="#444" stroke-width="1.7"/>
<text x="268.56" y="910.5" font-family='"Liberation Sans", sans-serif' font-size="22.46" font-weight="normal" textLength="12.22" lengthAdjust="spacingAndGlyphs" fill="#000">4</text>
<line x1="353.2" y1="878.7" x2="353.2" y2="885.2" stroke="#444" stroke-width="1.7"/>
<text x="345.5" y="910.28" font-family='"Liberation Sans", sans-serif' font-size="21.83" font-weight="normal" textLength="12.2" lengthAdjust="spacingAndGlyphs" fill="#000">6</text>
<line x1="430.9" y1="878.7" x2="430.9" y2="885.2" stroke="#444" stroke-width="1.7"/>
<text x="424.39" y="910.28" font-family='"Liberation Sans", sans-serif' font-size="21.83" font-weight="normal" textLength="12.54" lengthAdjust="spacingAndGlyphs" fill="#000">8</text>
<line x1="508.6" y1="878.7" x2="508.6" y2="885.2" stroke="#444" stroke-width="1.7"/>
<text x="495.34" y="910.28" font-family='"Liberation Sans", sans-serif' font-size="21.83" font-weight="normal" textLength="23.14" lengthAdjust="spacingAndGlyphs" fill="#000">10</text>
<line x1="586.3" y1="878.7" x2="586.3" y2="885.2" stroke="#444" stroke-width="1.7"/>
<text x="571.72" y="910.5" font-family='"Liberation Sans", sans-serif' font-size="22.14" font-weight="normal" textLength="21.91" lengthAdjust="spacingAndGlyphs" fill="#000">12</text>
<line x1="664" y1="878.7" x2="664" y2="885.2" stroke="#444" stroke-width="1.7"/>
<text x="650.85" y="910.5" font-family='"Liberation Sans", sans-serif' font-size="22.46" font-weight="normal" textLength="21.47" lengthAdjust="spacingAndGlyphs" fill="#000">14</text>
<text x="260.83" y="939" font-family='"Liberation Sans", sans-serif' font-size="20.5" font-weight="normal" textLength="236.52" lengthAdjust="spacingAndGlyphs" fill="#000">Normalized residuals**2</text>
<g transform="translate(16.4,743.4) rotate(-90)"><text x="-1.77" y="0" font-family='"Liberation Sans", sans-serif' font-size="21.8" font-weight="normal" textLength="92.16" lengthAdjust="spacingAndGlyphs" fill="#000">Leverage</text></g>
</svg>
</body></html>
